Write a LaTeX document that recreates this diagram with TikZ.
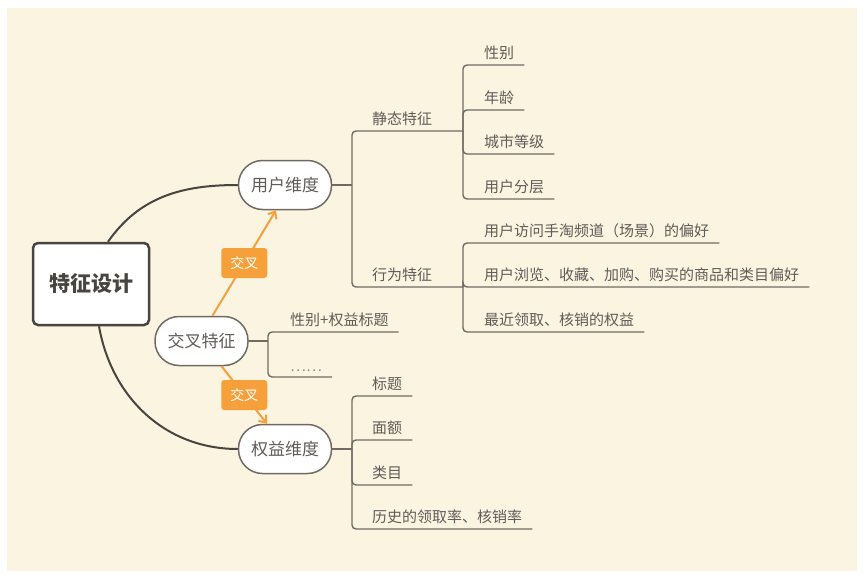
\documentclass[tikz,border=0pt]{standalone}
\usepackage{fontspec}
\setmainfont{Noto Sans CJK SC}
\usetikzlibrary{shapes,arrows.meta,positioning}

\definecolor{paper}{RGB}{251,244,225}
\definecolor{linegray}{RGB}{112,106,100}
\definecolor{darkline}{RGB}{72,68,64}
\definecolor{textgray}{RGB}{96,92,88}
\definecolor{dotgray}{RGB}{150,146,140}
\definecolor{crossorange}{RGB}{246,160,60}

\tikzset{
  root/.style={rectangle, draw=darkline, line width=2.5pt, rounded corners=5pt, fill=white, minimum width=116pt, minimum height=82pt, font=\fontsize{21}{21}\selectfont\bfseries, text=darkline},
  dim/.style={rectangle, draw=linegray, line width=1.5pt, rounded corners=24pt, fill=white, minimum width=93pt, minimum height=49pt, font=\fontsize{17}{17}\selectfont, text=textgray},
  leaf/.style={anchor=south west, inner xsep=0pt, inner ysep=5pt, font=\fontsize{15}{15}\selectfont, text=textgray},
  branch/.style={draw=linegray, line width=1.4pt, rounded corners=4pt},
  trunk/.style={draw=darkline, line width=2pt},
  cross/.style={rectangle, fill=crossorange, rounded corners=3pt, minimum width=46pt, minimum height=30pt, text=white, font=\fontsize{14}{14}\selectfont},
  crossarrow/.style={draw=crossorange, line width=2pt, -{Straight Barb[length=6pt,width=10pt]}}
}

\begin{document}
\begin{tikzpicture}[x=1pt, y=-1pt]
\useasboundingbox (0,0) rectangle (864,578);
\fill[paper] (7,8) rectangle (857,571);

% Main nodes
\node[root] (root) at (91,284) {特征设计};
\node[dim] (user) at (285,185) {用户维度};
\node[dim] (cross) at (201.5,341) {交叉特征};
\node[dim] (wealth) at (285,449) {权益维度};

% Trunk curves
\draw[trunk] ([xshift=17pt]root.north) to[out=55,in=180] (user.west);
\draw[trunk] ([xshift=8pt]root.south) to[out=-80,in=180] (wealth.west);

% Cross arrows
\draw[crossarrow] ([xshift=11pt]cross.north) -- node[cross] (crossup) {交叉} ([xshift=-9pt]user.south);
\draw[crossarrow] ([xshift=20pt]cross.south) -- node[cross] (crossdown) {交叉} ([xshift=-18pt]wealth.north);

% User dimension
\node[leaf] (static) at (372,131) {静态特征};
\node[leaf] (action) at (372,287) {行为特征};
\node[leaf] (sex) at (484,65) {性别};
\node[leaf] (age) at (484,110) {年龄};
\node[leaf] (city) at (484,154) {城市等级};
\node[leaf] (layer) at (484,199) {用户分层};
\node[leaf] (visit) at (484,243) {用户访问手淘频道（场景）的偏好};
\node[leaf] (browse) at (484,287) {用户浏览、收藏、加购、购买的商品和类目偏好};
\node[leaf] (recent) at (484,332) {最近领取、核销的权益};

\coordinate (uj) at (352,185);
\coordinate (sj) at (463,131);
\coordinate (aj) at (463,287);
\draw[branch] (user.east) -- (uj);
\draw[branch] (uj) |- (sj);
\draw[branch] (uj) |- (aj);
\foreach \n in {sex,age,city,layer}
  \draw[branch] (sj) |- ([xshift=10pt]\n.south east);
\foreach \n in {visit,browse,recent}
  \draw[branch] (aj) |- ([xshift=10pt]\n.south east);

% Cross features
\node[leaf] (sexright) at (290,332) {性别+权益标题};
\node[leaf, text=dotgray] (more) at (290,377) {……};
\coordinate (cj) at (268,341);
\draw[branch] (cross.east) -- (cj);
\foreach \n in {sexright,more}
  \draw[branch] (cj) |- ([xshift=10pt]\n.south east);

% Wealth dimension
\node[leaf] (title) at (372,396) {标题};
\node[leaf] (amount) at (372,440) {面额};
\node[leaf] (category) at (372,485) {类目};
\node[leaf] (history) at (372,529) {历史的领取率、核销率};
\coordinate (wj) at (352,449);
\draw[branch] (wealth.east) -- (wj);
\foreach \n in {title,amount,category,history}
  \draw[branch] (wj) |- ([xshift=10pt]\n.south east);
\end{tikzpicture}
\end{document}
